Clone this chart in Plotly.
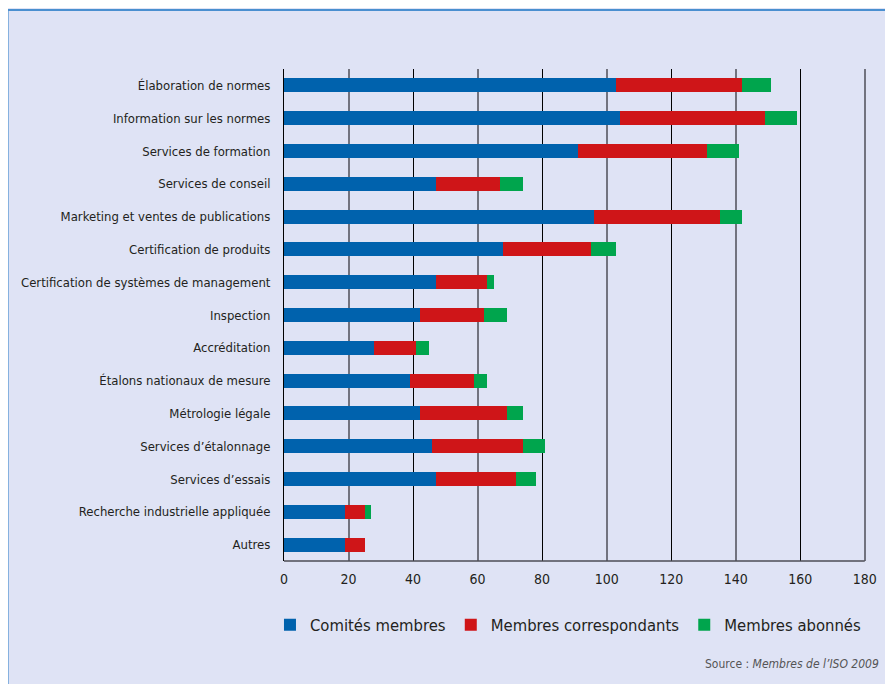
import plotly.graph_objects as go

categories = [
    "Élaboration de normes",
    "Information sur les normes",
    "Services de formation",
    "Services de conseil",
    "Marketing et ventes de publications",
    "Certification de produits",
    "Certification de systèmes de management",
    "Inspection",
    "Accréditation",
    "Étalons nationaux de mesure",
    "Métrologie légale",
    "Services d’étalonnage",
    "Services d’essais",
    "Recherche industrielle appliquée",
    "Autres",
]
comites_membres = [103, 104, 91, 47, 96, 68, 47, 42, 28, 39, 42, 46, 47, 19, 19]
membres_correspondants = [39, 45, 40, 20, 39, 27, 16, 20, 13, 20, 27, 28, 25, 6, 6]
membres_abonnes = [9, 10, 10, 7, 7, 8, 2, 7, 4, 4, 5, 7, 6, 2, 0]
series_names = ["Comités membres", "Membres correspondants", "Membres abonnés"]
series_colors = ["#0062ad", "#cf1518", "#00a54d"]
x_tick_values = [0, 20, 40, 60, 80, 100, 120, 140, 160, 180]
dark_grid_values = [0, 40, 80, 120, 160]
light_grid_values = [20, 60, 100, 140, 180]
source_text = "Source : <i>Membres de l’ISO 2009</i>"

FONT = "DejaVu Sans Condensed, Liberation Sans Narrow, Arial Narrow, sans-serif"
BG = "#dfe3f5"
X_RANGE = [0, 181]

fig = go.Figure()
for name, vals, col in zip(series_names,
                           [comites_membres, membres_correspondants, membres_abonnes],
                           series_colors):
    fig.add_trace(go.Bar(
        y=categories, x=vals, name=name, orientation="h",
        marker=dict(color=col, line=dict(width=0)),
        hoverinfo="x+y+name",
    ))

# empty helper trace so that the grid axis (x2) is instantiated
fig.add_trace(go.Scatter(x=[], y=[], xaxis="x2", yaxis="y",
                         showlegend=False, hoverinfo="skip"))

fig.update_layout(
    width=893, height=684,
    margin=dict(l=276, r=33, t=61, b=131, autoexpand=False),
    paper_bgcolor=BG,
    plot_bgcolor="rgba(0,0,0,0)",
    barmode="stack",
    bargap=0.57,
    font=dict(family=FONT, size=13, color="#231f20"),
    xaxis=dict(
        range=X_RANGE,
        tickmode="array", tickvals=x_tick_values,
        showgrid=False,
        zeroline=False,
        showline=False,
        ticks="", ticklabelstandoff=8,
        tickfont=dict(family=FONT, size=14, color="#231f20"),
        automargin=False,
        fixedrange=True,
    ),
    xaxis2=dict(
        overlaying="x", anchor="y", side="bottom",
        range=X_RANGE,
        tickmode="array", tickvals=dark_grid_values,
        showticklabels=False,
        showgrid=True, gridcolor="#000000", gridwidth=1,
        minor=dict(tickmode="array", tickvals=light_grid_values, showgrid=True,
                   gridcolor="#72737f", gridwidth=2),
        zeroline=False, showline=False, ticks="",
        automargin=False,
        fixedrange=True,
    ),
    yaxis=dict(
        autorange="reversed",
        showgrid=False, zeroline=False,
        showline=True, linecolor="#000000", linewidth=1,
        ticks="", ticklabelstandoff=10,
        tickfont=dict(family=FONT, size=13, color="#231f20"),
        automargin=False,
        fixedrange=True,
    ),
    legend=dict(
        orientation="h",
        x=-0.024, xanchor="left",
        y=-0.13, yanchor="middle",
        font=dict(family=FONT, size=16.5, color="#231f20"),
        bgcolor="rgba(0,0,0,0)",
        traceorder="normal",
    ),
    shapes=[
        dict(
            type="rect", xref="paper", yref="paper",
            x0=-0.4733, x1=1.3, y0=-0.5, y1=1.1199,
            line=dict(color="#4a8fd0", width=2),
            fillcolor=BG, layer="below",
        ),
        # bottom axis line, from 0 to the last tick (180)
        dict(
            type="line", xref="x", yref="paper",
            x0=x_tick_values[0], x1=x_tick_values[-1], y0=0, y1=0,
            line=dict(color="#4d4d55", width=1.5), layer="above",
        ),
    ],
    annotations=[dict(
        text=source_text, xref="paper", yref="paper",
        x=1.022, xanchor="right", y=-0.209, yanchor="middle",
        showarrow=False,
        font=dict(family=FONT, size=12, color="#555555"),
    )],
)

fig.write_html("out.html")
